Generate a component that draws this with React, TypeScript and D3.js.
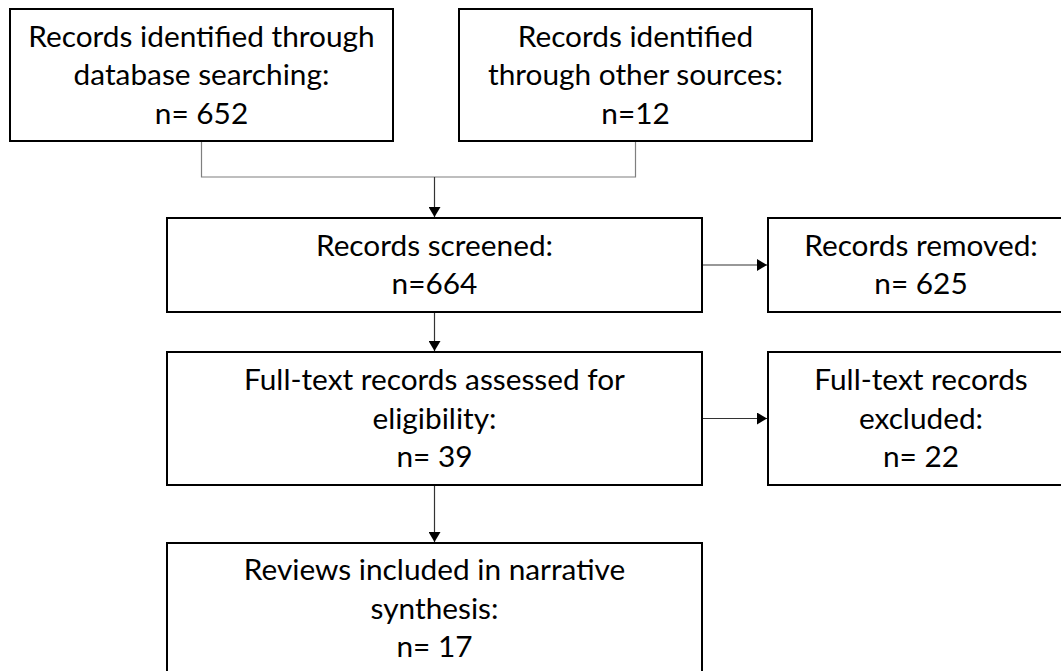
import React, { useEffect, useRef } from "react";
import * as d3 from "d3";

// PRISMA flow: stage labels and counts
const stageIds = ["db", "other", "screened", "removed", "assessed", "excluded", "included"];
const stageLabels = [
  ["Records identified through", "database searching:"],
  ["Records identified", "through other sources:"],
  ["Records screened:"],
  ["Records removed:"],
  ["Full-text records assessed for", "eligibility:"],
  ["Full-text records", "excluded:"],
  ["Reviews included in narrative", "synthesis:"],
];
const stageCounts = [652, 12, 664, 625, 39, 22, 17];
const countSpacing = [" ", "", "", " ", " ", " ", " "];

// layout of the boxes (pixels)
const boxLayout: Record<string, { x0: number; x1: number; y0: number; y1: number }> = {
  db: { x0: 10, x1: 393, y0: 9, y1: 141 },
  other: { x0: 459, x1: 812, y0: 9, y1: 141 },
  screened: { x0: 167, x1: 702, y0: 218, y1: 312 },
  removed: { x0: 768, x1: 1074, y0: 218, y1: 312 },
  assessed: { x0: 167, x1: 702, y0: 352, y1: 485 },
  excluded: { x0: 768, x1: 1074, y0: 352, y1: 485 },
  included: { x0: 167, x1: 702, y0: 543, y1: 700 },
};

const width = 1061;
const height = 671;
const fontSize = 29.8;
const lineGap = 38.5;

export default function App() {
  const ref = useRef<SVGSVGElement>(null);

  useEffect(() => {
    const svg = d3.select(ref.current);
    svg.selectAll("*").remove();

    svg
      .append("defs")
      .append("marker")
      .attr("id", "arrow")
      .attr("viewBox", "0 0 10 12")
      .attr("refX", 10)
      .attr("refY", 6)
      .attr("markerWidth", 10)
      .attr("markerHeight", 12)
      .attr("markerUnits", "userSpaceOnUse")
      .attr("orient", "auto")
      .append("path")
      .attr("d", "M0,0 L10,6 L0,12 Z")
      .attr("fill", "#000");

    const data = stageIds.map((id, i) => ({
      id,
      lines: [...stageLabels[i], `n=${countSpacing[i]}${stageCounts[i]}`],
      ...boxLayout[id],
    }));
    const B = boxLayout;
    const cx = (b: { x0: number; x1: number }) => (b.x0 + b.x1) / 2;
    const cy = (b: { y0: number; y1: number }) => (b.y0 + b.y1) / 2;

    // connectors
    const joinY = 177;
    const links = svg.append("g").attr("fill", "none");
    links
      .append("path")
      .attr("d", d3.line()([
        [cx(B.db), B.db.y1],
        [cx(B.db), joinY],
        [cx(B.other), joinY],
        [cx(B.other), B.other.y1],
      ]))
      .attr("stroke", "#7f7f7f")
      .attr("stroke-width", 1.2);

    const arrows: [number, number][][] = [
      [[cx(B.screened), joinY], [cx(B.screened), B.screened.y0 - 1]],
      [[B.screened.x1, cy(B.screened)], [B.removed.x0 - 1, cy(B.screened)]],
      [[cx(B.screened), B.screened.y1], [cx(B.assessed), B.assessed.y0 - 1]],
      [[B.assessed.x1, cy(B.assessed)], [B.excluded.x0 - 1, cy(B.assessed)]],
      [[cx(B.assessed), B.assessed.y1], [cx(B.included), B.included.y0 - 1]],
    ];
    links
      .selectAll("path.arrow")
      .data(arrows)
      .join("path")
      .attr("class", "arrow")
      .attr("d", (d) => d3.line()(d))
      .attr("stroke", "#333")
      .attr("stroke-width", 1.2)
      .attr("marker-end", "url(#arrow)");

    // boxes
    const g = svg
      .append("g")
      .selectAll("g.box")
      .data(data)
      .join("g")
      .attr("class", "box");

    g.append("rect")
      .attr("x", (d) => d.x0)
      .attr("y", (d) => d.y0)
      .attr("width", (d) => d.x1 - d.x0)
      .attr("height", (d) => d.y1 - d.y0)
      .attr("fill", "#fff")
      .attr("stroke", "#000")
      .attr("stroke-width", 2);

    g.append("text")
      .attr("text-anchor", "middle")
      .attr("font-family", "Lato, 'Open Sans', sans-serif")
      .attr("font-size", fontSize)
      .attr("fill", "#000")
      .each(function (d) {
        const t = d3.select(this);
        const n = d.lines.length;
        const mid = d.id === "included" ? 618.5 : d.id === "db" || d.id === "other" ? 85 : cy(d) + 10;
        d.lines.forEach((line, i) => {
          t.append("tspan")
            .attr("x", cx(d))
            .attr("y", mid + (i - (n - 1) / 2) * lineGap)
            .text(line);
        });
      });
  }, []);

  return (
    <svg
      ref={ref}
      width={width}
      height={height}
      style={{ position: "absolute", left: 0, top: 0, background: "#fff" }}
    />
  );
}
